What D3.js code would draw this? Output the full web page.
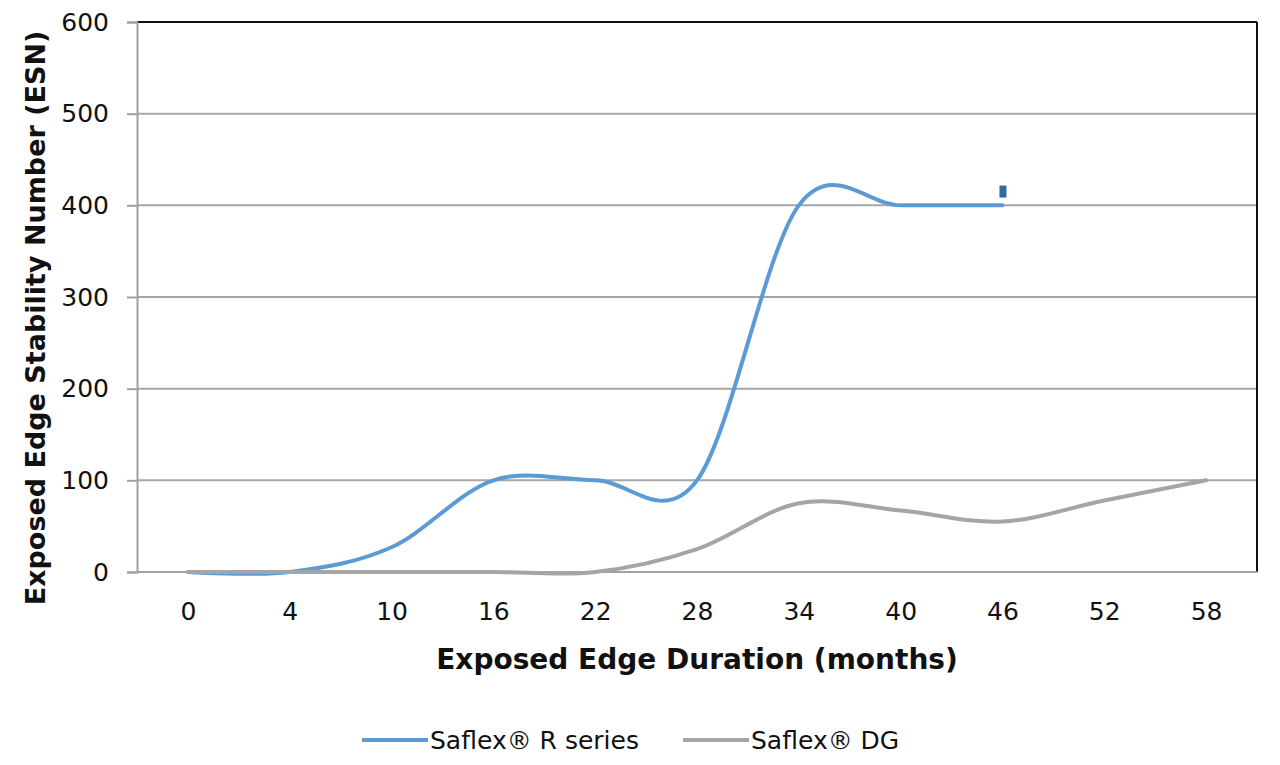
<!DOCTYPE html>
<html>
<head>
<meta charset="utf-8">
<script src="https://cdn.jsdelivr.net/npm/d3@7/dist/d3.min.js"></script>
<style>
  body { margin: 0; background: #fff; }
  svg { display: block; font-family: "DejaVu Sans", sans-serif; }
</style>
</head>
<body>
<div id="chart"></div>
<script>
// chart data
var months = ["0", "4", "10", "16", "22", "28", "34", "40", "46", "52", "58"];
var rSeries = [0, 0, 27, 100, 100, 100, 400, 400, 400, null, null];
var dgSeries = [0, 0, 0, 0, 0, 25, 75, 67, 55, 78, 100];
var yTicks = [0, 100, 200, 300, 400, 500, 600];
var seriesNames = ["Saflex\u00AE R series", "Saflex\u00AE DG"];
var seriesColors = ["#5b9bd5", "#a5a5a5"];
// small stray label mark near the end of the R series
var stray = {month: "46", value: 415};

var width = 1280, height = 765;
var margin = {top: 22, right: 23, bottom: 193, left: 137};
var fontFam = "'DejaVu Sans', sans-serif";

var svg = d3.select("#chart").append("svg")
    .attr("width", width)
    .attr("height", height);

var x = d3.scalePoint()
    .domain(months)
    .range([margin.left, width - margin.right])
    .padding(0.5);

var y = d3.scaleLinear()
    .domain([0, 600])
    .range([height - margin.bottom, margin.top]);

// horizontal gridlines
svg.append("g")
    .selectAll("line")
    .data(yTicks.filter(d => d > 0 && d < 600))
    .join("line")
    .attr("x1", margin.left)
    .attr("x2", width - margin.right)
    .attr("y1", d => y(d))
    .attr("y2", d => y(d))
    .attr("stroke", "#a6a6a6")
    .attr("stroke-width", 2);

// top and right border in black
svg.append("line")
    .attr("x1", margin.left).attr("x2", width - margin.right)
    .attr("y1", y(600)).attr("y2", y(600))
    .attr("stroke", "#111").attr("stroke-width", 2);
svg.append("line")
    .attr("x1", width - margin.right).attr("x2", width - margin.right)
    .attr("y1", y(600)).attr("y2", y(0))
    .attr("stroke", "#111").attr("stroke-width", 2);

// y axis
var yAxis = svg.append("g")
    .attr("transform", "translate(" + margin.left + ",0)")
    .call(d3.axisLeft(y).tickValues(yTicks).tickSize(10).tickPadding(18));
yAxis.select(".domain").attr("stroke", "#a0a0a0").attr("stroke-width", 2);
yAxis.selectAll(".tick line").attr("stroke", "#a0a0a0").attr("stroke-width", 2);
yAxis.selectAll(".tick text")
    .attr("font-size", 25)
    .attr("fill", "#111")
    .style("font-family", fontFam);

// x axis
var xAxis = svg.append("g")
    .attr("transform", "translate(0," + y(0) + ")")
    .call(d3.axisBottom(x).tickSize(0).tickPadding(30).tickSizeOuter(0));
xAxis.select(".domain")
    .attr("d", "M" + margin.left + ",0H" + (width - margin.right))
    .attr("stroke", "#a0a0a0").attr("stroke-width", 2);
xAxis.selectAll(".tick text")
    .attr("font-size", 25)
    .attr("fill", "#111")
    .style("font-family", fontFam);

// lines, smoothed like the spreadsheet original
var line = d3.line()
    .defined(d => d.v !== null)
    .x(d => x(d.m))
    .y(d => y(d.v))
    .curve(d3.curveCatmullRom.alpha(0));

var allSeries = [rSeries, dgSeries];
allSeries.forEach(function(vals, i){
    var pts = months.map((m, j) => ({m: m, v: vals[j]}));
    svg.append("path")
        .datum(pts)
        .attr("d", line)
        .attr("fill", "none")
        .attr("stroke", seriesColors[i])
        .attr("stroke-width", 4)
        .attr("stroke-linecap", "round");
});

// stray marker
svg.append("rect")
    .attr("x", x(stray.month) - 3)
    .attr("y", y(stray.value) - 6)
    .attr("width", 7)
    .attr("height", 12)
    .attr("fill", "#2f6aa0");

// axis titles
svg.append("text")
    .attr("x", 697)
    .attr("y", 669)
    .attr("text-anchor", "middle")
    .attr("font-size", 28)
    .attr("font-weight", "bold")
    .attr("fill", "#111")
    .text("Exposed Edge Duration (months)");

svg.append("text")
    .attr("transform", "translate(45,318) rotate(-90)")
    .attr("text-anchor", "middle")
    .attr("font-size", 27)
    .attr("font-weight", "bold")
    .attr("fill", "#111")
    .text("Exposed Edge Stability Number (ESN)");

// legend
var legendItems = [
    {name: seriesNames[0], color: seriesColors[0], x: 362},
    {name: seriesNames[1], color: seriesColors[1], x: 683}
];
var legend = svg.append("g");
legendItems.forEach(function(d){
    legend.append("line")
        .attr("x1", d.x).attr("x2", d.x + 66)
        .attr("y1", 740).attr("y2", 740)
        .attr("stroke", d.color)
        .attr("stroke-width", 4);
    legend.append("text")
        .attr("x", d.x + 68)
        .attr("y", 749)
        .attr("font-size", 25)
        .attr("fill", "#111")
        .text(d.name);
});
</script>
</body>
</html>
